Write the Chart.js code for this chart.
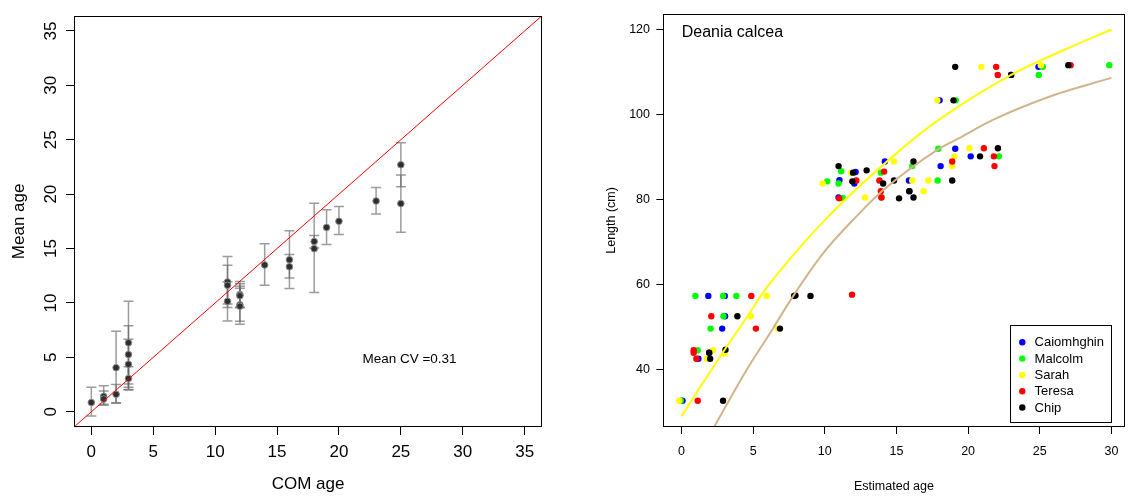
<!DOCTYPE html>
<html><head><meta charset="utf-8">
<script src="https://cdn.jsdelivr.net/npm/chart.js@4.4.1/dist/chart.umd.min.js"></script>
<style>
html,body{margin:0;padding:0;background:#fff;width:1129px;height:498px;overflow:hidden}
canvas{position:absolute;top:0}
#c1{left:0}
#c2{left:565px}
</style></head><body>
<canvas id="c1" width="560" height="498"></canvas>
<canvas id="c2" width="564" height="498"></canvas>
<script>
const FONT = "'Liberation Sans', Arial, Helvetica, sans-serif";

// ---------- Left panel data ----------
const comAge  = [0, 1, 1, 2, 2, 3, 3, 3, 3, 11, 11, 11, 12, 12, 12, 12, 14, 16, 16, 18, 18, 19, 20, 23, 25, 25];
const meanAge = [0.85, 1.41, 1.17, 4.05, 1.6, 6.34, 5.26, 4.36, 3.06, 11.93, 11.62, 10.15, 10.78, 10.66, 9.82, 9.70, 13.49, 13.97, 13.33, 15.65, 14.99, 16.94, 17.51, 19.37, 22.7, 19.13];
const ageLo   = [-0.39, 0.7, 0.6, 0.8, 0.8, 2.56, 2.25, 2.05, 2.0, 9.58, 9.9, 8.35, 9.6, 9.55, 8.32, 8.05, 11.62, 11.32, 12.29, 15.05, 10.96, 15.38, 16.28, 18.17, 20.67, 16.49];
const ageHi   = [2.25, 2.4, 1.9, 7.4, 2.5, 10.15, 7.9, 6.67, 4.14, 14.27, 13.46, 11.95, 11.98, 11.77, 11.53, 11.35, 15.44, 16.64, 14.45, 16.19, 19.16, 18.56, 18.86, 20.6, 24.72, 21.75];
const leftTicks = [0, 5, 10, 15, 20, 25, 30, 35];
const leftLim = [-1.4, 36.4];
const cvText = 'Mean CV =0.31';
const cvPos = {x: 25.7, y: 4.8};

// ---------- Right panel data ----------
const readers = ['Caiomhghin', 'Malcolm', 'Sarah', 'Teresa', 'Chip'];
const readerColors = ['#0000FF', '#00FF00', '#FFFF00', '#FF0000', '#000000'];
const caiAge = [0.07, 1.87, 3.02, 3.04, 2.84, 1.94, 1.18, 11.02, 12.15, 12.06, 10.96, 14.19, 15.87, 15.9, 18.08, 19.1, 20.18, 23.0, 24.91, 18.01];
const caiLen = [32.6, 57.3, 57.3, 52.5, 49.6, 43.9, 42.5, 84.6, 86.5, 83.8, 80.5, 89.0, 84.5, 82.0, 87.9, 92.0, 90.2, 109.4, 111.3, 103.4];
const malAge = [-0.05, 0.97, 2.9, 3.83, 2.93, 2.03, 1.13, 11.14, 10.17, 10.96, 11.25, 13.91, 13.95, 16.1, 17.87, 17.92, 22.15, 24.93, 25.21, 29.85, 19.14];
const malLen = [32.6, 57.3, 57.3, 57.3, 52.5, 49.6, 44.5, 86.7, 84.3, 83.8, 80.4, 86.35, 80.5, 87.9, 84.5, 92.0, 90.2, 109.4, 111.3, 111.7, 103.4];
const sarAge = [-0.16, 5.95, 4.84, 6.73, 2.19, 3.0, 1.77, 9.85, 11.83, 12.8, 14.83, 16.1, 16.89, 17.23, 19.05, 18.89, 20.09, 20.92, 25.07, 17.85];
const sarLen = [32.6, 57.3, 52.5, 49.6, 44.5, 43.7, 42.5, 83.8, 86.3, 80.5, 89.0, 84.5, 82.0, 84.5, 90.2, 87.9, 92.1, 111.3, 111.7, 103.4];
const terAge = [1.13, 4.87, 11.9, 2.08, 5.19, 0.85, 0.85, 1.04, 12.2, 11.0, 14.14, 13.81, 13.91, 13.95, 18.89, 21.1, 21.8, 21.84, 21.96, 22.07, 27.15];
const terLen = [32.6, 57.3, 57.6, 52.5, 49.6, 44.5, 43.9, 42.5, 84.5, 80.3, 86.6, 84.5, 82.0, 80.5, 89.0, 92.1, 90.2, 87.9, 111.3, 109.4, 111.7];
const chiAge = [2.9, 7.85, 7.95, 9.0, 3.9, 6.87, 1.94, 3.07, 2.0, 10.96, 11.97, 11.92, 12.92, 14.07, 14.83, 15.18, 16.19, 15.9, 16.19, 18.89, 20.83, 22.08, 19.1, 23.0, 26.99, 18.98];
const chiLen = [32.6, 57.3, 57.4, 57.3, 52.5, 49.6, 43.9, 44.6, 42.5, 87.9, 86.35, 84.3, 86.9, 83.8, 84.5, 80.3, 89.0, 82.0, 80.5, 84.5, 90.2, 92.1, 111.3, 109.4, 111.7, 103.4];
const curveAgeA = [0, 1.15, 3.07, 4.84, 5.53, 6.8, 10.15, 15.34, 18.0, 23.0, 26.64, 30];
const curveLenA = [28.9, 35.0, 44.9, 53.7, 57.3, 62.9, 75.7, 91.9, 98.9, 109.4, 115.2, 120.1];
const curveAgeB = [2.26, 2.54, 4.5, 6.34, 7.72, 9.92, 12.11, 14.1, 17.88, 19.26, 21.8, 25.95, 30];
const curveLenB = [26.35, 28.0, 39.6, 49.4, 56.9, 67.5, 75.7, 82.3, 91.8, 94.3, 98.9, 104.6, 108.7];
const rightXTicks = [0, 5, 10, 15, 20, 25, 30];
const rightYTicks = [40, 60, 80, 100, 120];
const rightXLim = [-1.27, 30.92];
const rightYLim = [26.4, 123.8];
const speciesName = 'Deania calcea';

const readerAges = [caiAge, malAge, sarAge, terAge, chiAge];
const readerLens = [caiLen, malLen, sarLen, terLen, chiLen];
const pairs = (xs, ys) => xs.map((v, i) => ({x: v, y: ys[i]}));

// ---------- plugins ----------
const boxPlugin = {
  id: 'box',
  afterDatasetsDraw(chart) {
    const {ctx, chartArea: a} = chart;
    ctx.save();
    ctx.strokeStyle = '#000'; ctx.lineWidth = 1;
    const l = Math.round(a.left) + 0.5, t = Math.round(a.top) + 0.5;
    const r = Math.round(a.right) - 0.5, b = Math.round(a.bottom) - 0.5;
    ctx.strokeRect(l, t, r - l, b - t);
    ctx.restore();
  }
};

const errPlugin = {
  id: 'err',
  beforeDatasetsDraw(chart) {
    const {ctx, scales: {x, y}} = chart;
    ctx.save();
    ctx.strokeStyle = 'rgba(95,95,95,0.62)';
    ctx.lineWidth = 1.5;
    for (let i = 0; i < comAge.length; i++) {
      const px = x.getPixelForValue(comAge[i]);
      const pl = y.getPixelForValue(ageLo[i]);
      const ph = y.getPixelForValue(ageHi[i]);
      ctx.beginPath();
      ctx.moveTo(px, pl); ctx.lineTo(px, ph);
      ctx.moveTo(px - 5, pl); ctx.lineTo(px + 5, pl);
      ctx.moveTo(px - 5, ph); ctx.lineTo(px + 5, ph);
      ctx.stroke();
    }
    ctx.restore();
  }
};

const cvPlugin = {
  id: 'cv',
  afterDatasetsDraw(chart) {
    const {ctx, scales: {x, y}} = chart;
    ctx.save();
    ctx.fillStyle = '#000';
    ctx.font = `13.5px ${FONT}`;
    ctx.textAlign = 'center'; ctx.textBaseline = 'middle';
    ctx.fillText(cvText, x.getPixelForValue(cvPos.x), y.getPixelForValue(cvPos.y));
    ctx.restore();
  }
};

const rightDecor = {
  id: 'rdecor',
  afterDatasetsDraw(chart) {
    const {ctx, chartArea: a} = chart;
    ctx.save();
    ctx.fillStyle = '#000';
    ctx.font = `16px ${FONT}`;
    ctx.textAlign = 'left'; ctx.textBaseline = 'middle';
    ctx.fillText(speciesName, a.left + 18.4, a.top + 18.5);
    const bx = Math.round(a.right) - 115, by = Math.round(a.bottom) - 102, bw = 101, bh = 97;
    ctx.strokeStyle = '#000'; ctx.lineWidth = 1;
    ctx.strokeRect(bx + 0.5, by + 0.5, bw, bh);
    ctx.font = `13px ${FONT}`;
    readers.forEach((name, i) => {
      const yy = by + 17.3 + i * 16.3;
      ctx.fillStyle = readerColors[i];
      ctx.beginPath(); ctx.arc(bx + 12.3, yy, 3.2, 0, Math.PI * 2); ctx.fill();
      ctx.fillStyle = '#000';
      ctx.fillText(name, bx + 24.6, yy + 0.5);
    });
    ctx.restore();
  }
};

const tickGrid = (len) => ({drawOnChartArea: false, drawTicks: true, tickLength: len, tickColor: '#000', tickWidth: 1, color: '#000'});

// ---------- Left chart ----------
new Chart(document.getElementById('c1'), {
  type: 'scatter',
  data: {datasets: [
    {data: pairs(comAge, meanAge), pointRadius: 3.3, pointBackgroundColor: '#2e2e2e', pointBorderColor: '#8c8c8c', pointBorderWidth: 1, order: 1},
    {data: [{x: leftLim[0], y: leftLim[0]}, {x: leftLim[1], y: leftLim[1]}], showLine: true, borderColor: '#FF0000', borderWidth: 1, pointRadius: 0, order: 0}
  ]},
  options: {
    responsive: false, animation: false, events: [],
    layout: {padding: {top: 7, right: 18, left: 0, bottom: 0}},
    plugins: {legend: {display: false}, tooltip: {enabled: false}},
    scales: {
      x: {
        type: 'linear', min: leftLim[0], max: leftLim[1],
        afterBuildTicks: s => { s.ticks = leftTicks.map(v => ({value: v})); },
        afterFit: s => { s.height = 71; },
        grid: tickGrid(8), border: {display: false},
        ticks: {padding: 7, color: '#000', font: {family: FONT, size: 17}, autoSkip: false, maxRotation: 0},
        title: {display: true, text: 'COM age', color: '#000', font: {family: FONT, size: 17}, padding: {top: 0, bottom: 3}}
      },
      y: {
        type: 'linear', min: leftLim[0], max: leftLim[1],
        afterBuildTicks: s => { s.ticks = leftTicks.map(v => ({value: v})); },
        afterFit: s => { s.width = 74; },
        grid: tickGrid(8), border: {display: false},
        ticks: {padding: 5.5, color: '#000', font: {family: FONT, size: 17}, autoSkip: false, minRotation: 90, maxRotation: 90, crossAlign: 'center'},
        title: {display: true, text: 'Mean age', color: '#000', font: {family: FONT, size: 17}, padding: {top: 9, bottom: 0}}
      }
    }
  },
  plugins: [errPlugin, boxPlugin, cvPlugin]
});

// ---------- Right chart ----------
const rightSets = readers.map((name, i) => ({
  label: name, data: pairs(readerAges[i], readerLens[i]),
  pointRadius: 3.2, pointBackgroundColor: readerColors[i], pointBorderWidth: 0, order: 10 - i
}));
rightSets.push({label: 'fitA', data: pairs(curveAgeA, curveLenA), showLine: true, borderColor: '#FFFF00', borderWidth: 2, pointRadius: 0, cubicInterpolationMode: 'monotone', order: 1});
rightSets.push({label: 'fitB', data: pairs(curveAgeB, curveLenB), showLine: true, borderColor: '#D2B48C', borderWidth: 2, pointRadius: 0, cubicInterpolationMode: 'monotone', order: 2});

new Chart(document.getElementById('c2'), {
  type: 'scatter',
  data: {datasets: rightSets},
  options: {
    responsive: false, animation: false, events: [],
    layout: {padding: {top: 7, right: 0.5, left: 0, bottom: 0}},
    plugins: {legend: {display: false}, tooltip: {enabled: false}},
    scales: {
      x: {
        type: 'linear', min: rightXLim[0], max: rightXLim[1],
        afterBuildTicks: s => { s.ticks = rightXTicks.map(v => ({value: v})); },
        afterFit: s => { s.height = 71; },
        grid: tickGrid(7), border: {display: false},
        ticks: {padding: 10.5, color: '#000', font: {family: FONT, size: 12.5}, autoSkip: false, maxRotation: 0},
        title: {display: true, text: 'Estimated age', color: '#000', font: {family: FONT, size: 12.5}, padding: {top: 0, bottom: 3.5}}
      },
      y: {
        type: 'linear', min: rightYLim[0], max: rightYLim[1],
        afterBuildTicks: s => { s.ticks = rightYTicks.map(v => ({value: v})); },
        afterFit: s => { s.width = 98.3; },
        grid: tickGrid(7), border: {display: false},
        ticks: {padding: 6.3, color: '#000', font: {family: FONT, size: 12.5}, autoSkip: false},
        title: {display: true, text: 'Length (cm)', color: '#000', font: {family: FONT, size: 12.5}, padding: {top: 39.5, bottom: 0}}
      }
    }
  },
  plugins: [boxPlugin, rightDecor]
});
</script>
</body></html>
